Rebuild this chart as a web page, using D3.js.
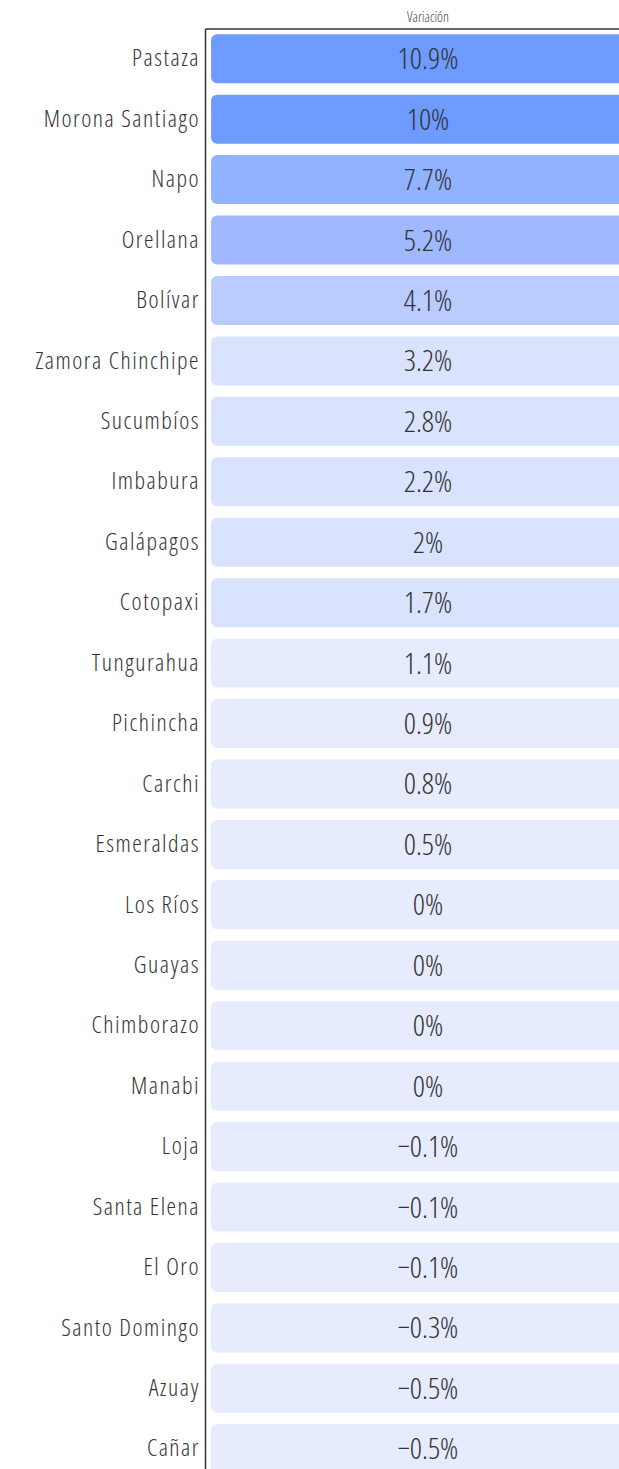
<!DOCTYPE html>
<html lang="es">
<head>
    <meta charset="UTF-8">
    <title>Variación por provincia</title>
    <script src="https://cdn.jsdelivr.net/npm/d3@7"></script>
    <style>
        body { margin: 0; background: #fff; }
        svg text { font-family: "Open Sans", sans-serif; font-stretch: 75%; font-weight: 300; }
    </style>
</head>
<body>
<div id="chart"></div>
<script>
    // data
    const provinces = ["Pastaza", "Morona Santiago", "Napo", "Orellana", "Bolívar", "Zamora Chinchipe",
        "Sucumbíos", "Imbabura", "Galápagos", "Cotopaxi", "Tungurahua", "Pichincha", "Carchi",
        "Esmeraldas", "Los Ríos", "Guayas", "Chimborazo", "Manabi", "Loja", "Santa Elena", "El Oro",
        "Santo Domingo", "Azuay", "Cañar"];
    const variation = [10.9, 10, 7.7, 5.2, 4.1, 3.2, 2.8, 2.2, 2, 1.7, 1.1, 0.9, 0.8, 0.5, 0, 0, 0, 0,
        -0.1, -0.1, -0.1, -0.3, -0.5, -0.5];
    const columns = ["Variación"];

    const thresholds = [1.5, 4, 5, 7, 9.5];
    const palette = ["#e6ebfd", "#dae3fe", "#b9cbff", "#a0b8ff", "#91b2ff", "#6e9bff"];

    const width = 619, height = 1469;
    const marginLeft = 205, marginTop = 28.5;

    const rows = provinces.map((p, i) => ({province: p, column: columns[0], value: variation[i]}));

    const svg = d3.select("#chart").append("svg")
        .attr("width", width)
        .attr("height", height);

    const x = d3.scaleBand()
        .domain(columns)
        .range([marginLeft, 651])
        .paddingOuter(0.014);

    const y = d3.scaleBand()
        .domain(provinces)
        .range([marginTop, 1479])
        .paddingInner(0.19)
        .paddingOuter(0.095);

    const color = d3.scaleThreshold().domain(thresholds).range(palette);
    const fmt = d3.format(".1~f");

    svg.append("g")
        .selectAll("rect")
        .data(rows)
        .join("rect")
        .attr("x", d => x(d.column))
        .attr("y", d => y(d.province))
        .attr("width", x.bandwidth())
        .attr("height", y.bandwidth())
        .attr("rx", 6)
        .attr("fill", d => color(d.value));

    svg.append("g")
        .selectAll("text")
        .data(rows)
        .join("text")
        .attr("x", d => x(d.column) + x.bandwidth() / 2)
        .attr("y", d => y(d.province) + y.bandwidth() / 2)
        .attr("dy", "0.35em")
        .attr("text-anchor", "middle")
        .attr("font-size", 30)
        .attr("fill", "#333")
        .text(d => fmt(d.value) + "%");

    const yAxis = svg.append("g")
        .attr("transform", `translate(${marginLeft},0)`)
        .call(d3.axisLeft(y).tickSize(0).tickSizeOuter(0).tickPadding(5));
    yAxis.selectAll("text")
        .attr("font-size", 24)
        .attr("letter-spacing", 1.5)
        .attr("fill", "#333");
    yAxis.select(".domain").attr("stroke", "#333").attr("stroke-width", 1.5);

    const xAxis = svg.append("g")
        .attr("transform", `translate(0,${marginTop})`)
        .call(d3.axisTop(x).tickSize(0).tickSizeOuter(0).tickPadding(7));
    xAxis.selectAll("text").attr("font-size", 14).attr("fill", "#444");
    xAxis.select(".domain").attr("stroke", "#333").attr("stroke-width", 1.5);
</script>
</body>
</html>
